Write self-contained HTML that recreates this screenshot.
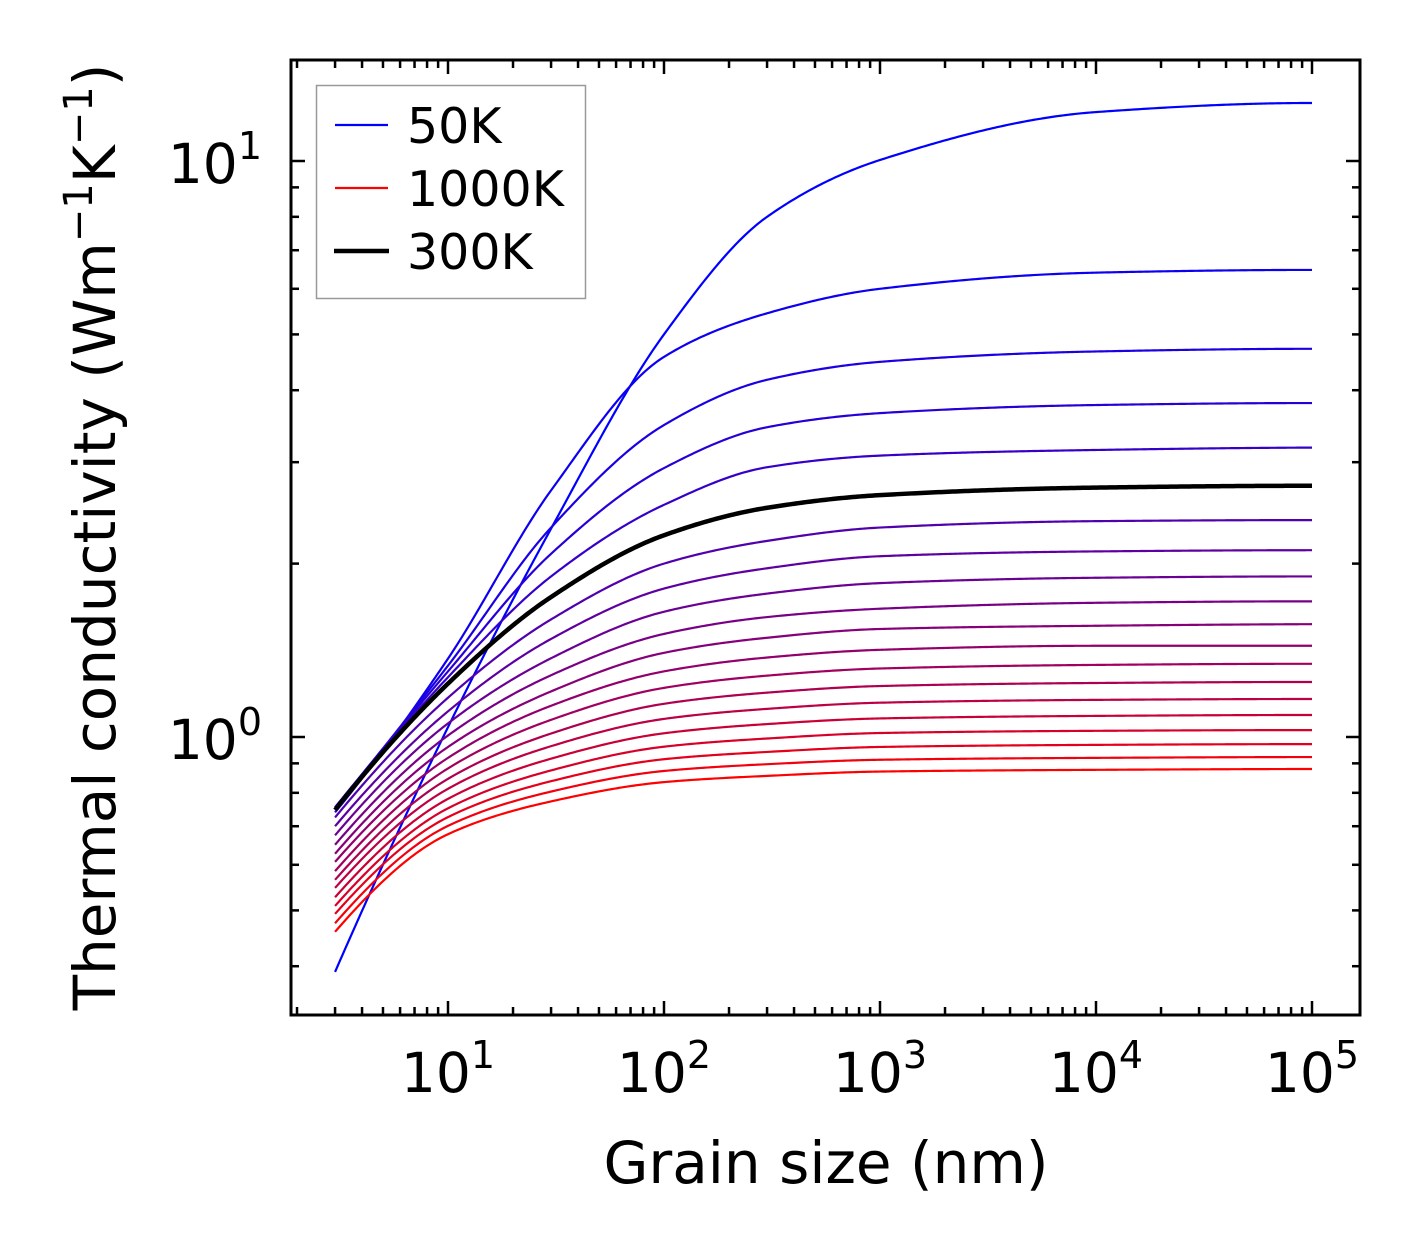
<!DOCTYPE html>
<html><head><meta charset="utf-8"><style>
html,body{margin:0;padding:0;background:#fff;}
svg{display:block;font-family:"DejaVu Sans","Liberation Sans",sans-serif;}
</style></head><body>
<svg id="chart" width="1421" height="1254" viewBox="0 0 1421 1254" xmlns="http://www.w3.org/2000/svg">
<rect width="1421" height="1254" fill="#fff"/>
<g id="curves"></g>
<g id="axes"></g>
<text x="826" y="1183" font-size="58" text-anchor="middle">Grain size (nm)</text>
<text transform="translate(115,537) rotate(-90)" font-size="58" text-anchor="middle">Thermal conductivity (Wm<tspan font-size="40" dy="-23">−1</tspan><tspan dy="23">K</tspan><tspan font-size="40" dy="-23">−1</tspan><tspan dy="23">)</tspan></text>
<g>
<rect x="316.5" y="85.5" width="269" height="213" fill="#fff" stroke="#999" stroke-width="1.5"/>
<line x1="335" y1="125" x2="388" y2="125" stroke="#0000ff" stroke-width="2.2"/>
<text x="407" y="143" font-size="49">50K</text>
<line x1="335" y1="188" x2="388" y2="188" stroke="#ff0000" stroke-width="2.2"/>
<text x="407" y="206" font-size="49">1000K</text>
<line x1="334" y1="251" x2="389" y2="251" stroke="#000" stroke-width="4.5"/>
<text x="407" y="269" font-size="49">300K</text>
</g>
</svg>
<script>
const grainSizes = [3, 10, 30, 100, 300, 1000, 10000, 100000];
const temperatures = [50,100,150,200,250,300,350,400,450,500,550,600,650,700,750,800,850,900,950,1000];
const k50 = [0.391, 1.04, 2.3, 5.0, 8.0, 10.04, 12.16, 12.61];
const k100 = [0.74, 1.368, 2.68, 4.57, 5.44, 6.0, 6.40, 6.47];
const k150 = [0.755, 1.33, 2.31, 3.48, 4.17, 4.48, 4.67, 4.72];
const k200 = [0.755, 1.30, 2.08, 2.93, 3.45, 3.65, 3.77, 3.80];
const k250 = [0.75, 1.27, 1.90, 2.53, 2.94, 3.08, 3.15, 3.18];
const k300 = [0.747, 1.238, 1.75, 2.24, 2.50, 2.63, 2.71, 2.73];
const k350 = [0.725, 1.17, 1.60, 2.00, 2.19, 2.31, 2.37, 2.38];
const k400 = [0.70, 1.108, 1.48, 1.81, 1.963, 2.06, 2.10, 2.11];
const k450 = [0.675, 1.056, 1.37, 1.65, 1.774, 1.85, 1.89, 1.90];
const k500 = [0.65, 1.006, 1.28, 1.51, 1.615, 1.67, 1.71, 1.72];
const k550 = [0.627, 0.961, 1.20, 1.40, 1.487, 1.54, 1.56, 1.57];
const k600 = [0.607, 0.920, 1.133, 1.30, 1.374, 1.417, 1.44, 1.44];
const k650 = [0.585, 0.882, 1.071, 1.217, 1.278, 1.315, 1.334, 1.34];
const k700 = [0.565, 0.846, 1.014, 1.142, 1.194, 1.226, 1.241, 1.246];
const k750 = [0.547, 0.813, 0.964, 1.075, 1.119, 1.147, 1.160, 1.164];
const k800 = [0.527, 0.781, 0.917, 1.015, 1.053, 1.077, 1.088, 1.092];
const k850 = [0.509, 0.752, 0.875, 0.962, 0.994, 1.016, 1.025, 1.028];
const k900 = [0.493, 0.726, 0.838, 0.915, 0.942, 0.961, 0.969, 0.972];
const k950 = [0.475, 0.701, 0.804, 0.873, 0.897, 0.913, 0.920, 0.923];
const k1000 = [0.459, 0.678, 0.773, 0.835, 0.856, 0.871, 0.877, 0.880];
const series = [k50,k100,k150,k200,k250,k300,k350,k400,k450,k500,k550,k600,k650,k700,k750,k800,k850,k900,k950,k1000];
const xTickLabels = ["1","2","3","4","5"];
const yTickLabels = ["0","1"];

const PL=291, PR=1360, PT=60, PB=1015;
const X_PER_DEC=216, X10=448, Y_PER_DEC=576, Y1=737;
const xs = v => X10 + (Math.log10(v)-1)*X_PER_DEC;
const ys = v => Y1 - Math.log10(v)*Y_PER_DEC;
const NS="http://www.w3.org/2000/svg";
function mk(tag, attrs, parent){const e=document.createElementNS(NS,tag);for(const k in attrs)e.setAttribute(k,attrs[k]);parent.appendChild(e);return e;}

// PCHIP (Fritsch-Butland weighted harmonic mean)
function pchip(xv, yv){
  const n=xv.length, d=[], h=[], m=[];
  for(let i=0;i<n-1;i++){ h.push(xv[i+1]-xv[i]); d.push((yv[i+1]-yv[i])/h[i]); }
  for(let i=1;i<n-1;i++){
    if(d[i-1]*d[i]<=0){m[i]=0;continue;}
    const w1=2*h[i]+h[i-1], w2=h[i]+2*h[i-1];
    m[i]=(w1+w2)/(w1/d[i-1]+w2/d[i]);
  }
  function endSlope(h0,h1,d0,d1){ let s=((2*h0+h1)*d0-h0*d1)/(h0+h1); if(s*d0<=0) s=0; else if(d0*d1<=0 && Math.abs(s)>Math.abs(3*d0)) s=3*d0; return s; }
  m[0]=endSlope(h[0],h[1],d[0],d[1]);
  m[n-1]=endSlope(h[n-2],h[n-3],d[n-2],d[n-3]);
  return function(x){ let i=0; while(i<n-2 && x>xv[i+1]) i++; const hh=h[i], t=(x-xv[i])/hh, t2=t*t, t3=t2*t;
    return (2*t3-3*t2+1)*yv[i]+(t3-2*t2+t)*hh*m[i]+(-2*t3+3*t2)*yv[i+1]+(t3-t2)*hh*m[i+1]; };
}

const cg=document.getElementById('curves');
const lx=grainSizes.map(Math.log10);
const order=[];
for(let i=0;i<series.length;i++) if(temperatures[i]!==300) order.push(i);
order.push(temperatures.indexOf(300));
order.forEach(i=>{
  const T=temperatures[i];
  const f=pchip(lx, series[i].map(Math.log10));
  let d='';
  const x0=lx[0], x1=lx[lx.length-1];
  for(let s=0;s<=400;s++){ const l=x0+(x1-x0)*s/400; const v=Math.pow(10,f(l)); d+=(s?'L':'M')+xs(Math.pow(10,l)).toFixed(2)+','+ys(v).toFixed(2); }
  const r=Math.round(255*(T-50)/950);
  const col = T===300 ? '#000' : `rgb(${r},0,${255-r})`;
  const p=mk('path',{d:d,fill:'none',stroke:col,'stroke-width':T===300?4.5:2.2,'stroke-linejoin':'round'},cg);
  
  
});

const ag=document.getElementById('axes');
for(let e=0;e<=5;e++){
  for(let m=1;m<10;m++){
    const v=m*Math.pow(10,e), x=xs(v);
    if(x<PL+1||x>PR-1) continue;
    const L=m===1?14:8;
    const t1=mk('line',{x1:x,y1:PB,x2:x,y2:PB-L,stroke:'#000','stroke-width':2.5},ag);
     
    const t2=mk('line',{x1:x,y1:PT,x2:x,y2:PT+L,stroke:'#000','stroke-width':2.5},ag);
     
  }
}
for(let e=-1;e<=1;e++){
  for(let m=1;m<10;m++){
    const v=m*Math.pow(10,e), y=ys(v);
    if(y<PT+1||y>PB-1) continue;
    const L=m===1?14:8;
    const t1=mk('line',{x1:PL,y1:y,x2:PL+L,y2:y,stroke:'#000','stroke-width':2.5},ag);
     
    const t2=mk('line',{x1:PR,y1:y,x2:PR-L,y2:y,stroke:'#000','stroke-width':2.5},ag);
     
  }
}
const fr=mk('rect',{x:PL,y:PT,width:PR-PL,height:PB-PT,fill:'none',stroke:'#000','stroke-width':3},ag);
 
xTickLabels.forEach(s=>{
  const x=xs(Math.pow(10,+s));
  const t=mk('text',{x:x,y:1092,'font-size':55,'text-anchor':'middle'},ag);
   
  t.innerHTML='10<tspan font-size="38" dy="-24">'+s+'</tspan>';
});
yTickLabels.forEach(s=>{
  const y=ys(Math.pow(10,+s));
  const t=mk('text',{x:262,y:y+22,'font-size':55,'text-anchor':'end'},ag);
   
  t.innerHTML='10<tspan font-size="38" dy="-24">'+s+'</tspan>';
});
</script>
</body></html>
